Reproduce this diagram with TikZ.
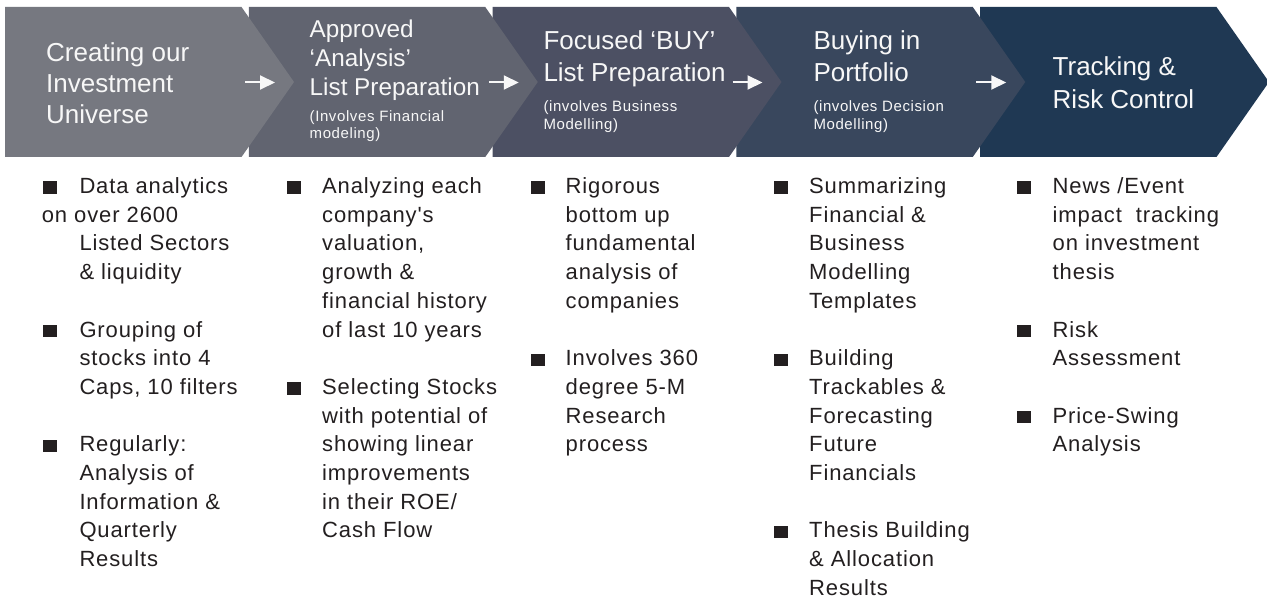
\documentclass[tikz,border=0pt]{standalone}
\usepackage{fontspec}
\setmainfont{Liberation Sans}
\newfontfamily\bodyfont[LetterSpace=4]{Liberation Sans}
\newfontfamily\subfont[LetterSpace=4]{Liberation Sans}
\usetikzlibrary{arrows.meta}
\definecolor{cA}{HTML}{767880}
\definecolor{cB}{HTML}{616470}
\definecolor{cC}{HTML}{4C5063}
\definecolor{cD}{HTML}{39475D}
\definecolor{cE}{HTML}{1F3853}
\definecolor{txt}{HTML}{231F20}
\definecolor{wtxt}{HTML}{F7F7F7}
\tikzset{
  chev/.style={draw=none},
  ttl/.style={anchor=base west, inner sep=0pt, text=wtxt, font=\fontsize{26}{30}\selectfont},
  ttlsmall/.style={anchor=base west, inner sep=0pt, text=wtxt, font=\fontsize{24.3}{29}\selectfont},
  subt/.style={anchor=base west, inner sep=0pt, text=wtxt, font=\subfont\fontsize{15}{17}\selectfont},
  btxt/.style={anchor=base west, inner sep=0pt, text=txt, font=\bodyfont\fontsize{22}{28.7}\selectfont},
  bsq/.style={anchor=south west, fill=txt, draw=none, inner sep=0pt, minimum width=13.8pt, minimum height=12.5pt},
  flow/.style={draw=wtxt, line width=2pt, -{Triangle[length=15pt,width=14pt]}},
}
\begin{document}
\begin{tikzpicture}[x=1pt,y=-1pt]
\useasboundingbox (0,0) rectangle (1267,599);
\fill[white] (0,0) rectangle (1267,599);

% chevrons (drawn right to left so each tip overlaps the next box)
\foreach \i/\c in {5/cE,4/cD,3/cC,2/cB,1/cA}{
  \pgfmathsetmacro\xo{5+243.75*(\i-1)}
  \fill[chev, fill=\c] (\xo,7) -- ++(236.5,0) -- ++(52.5,75) -- ++(-52.5,75) -- ++(-236.5,0) -- cycle;
}

% small arrows between the steps
\foreach \i in {1,2,3,4}{
  \pgfmathsetmacro\xa{245+243.75*(\i-1)}
  \coordinate (a\i s) at (\xa,82.5);
  \coordinate (a\i e) at (\xa+30,82.5);
  \draw[flow] (a\i s) -- (a\i e);
}

% titles
\node[ttl] (t1a) at (46,61.7) {Creating our};
\node[ttl] (t1b) at (46,92.7) {Investment};
\node[ttl] (t1c) at (46,123.3) {Universe};

\node[ttlsmall] (t2a) at (309.5,37.7) {Approved};
\node[ttlsmall] (t2b) at (309.5,66.5) {‘Analysis’};
\node[ttlsmall] (t2c) at (309.5,95.5) {List Preparation};
\node[subt] (t2d) at (309.5,121.7) {(Involves Financial};
\node[subt] (t2e) at (309.5,138.5) {modeling)};

\node[ttl] (t3a) at (543.3,50) {Focused ‘BUY’};
\node[ttl] (t3b) at (543.3,81.7) {List Preparation};
\node[subt] (t3c) at (543.3,111.7) {(involves Business};
\node[subt] (t3d) at (543.3,130) {Modelling)};

\node[ttl] (t4a) at (813.3,49.5) {Buying in};
\node[ttl] (t4b) at (813.3,81.7) {Portfolio};
\node[subt] (t4c) at (813.3,111.7) {(involves Decision};
\node[subt] (t4d) at (813.3,130) {Modelling)};

\node[ttl] (t5a) at (1052.5,76) {Tracking \&};
\node[ttl] (t5b) at (1052.5,108.3) {Risk Control};

% bullet columns
\def\yb{193.5}
\def\ls{28.7}
% column 1
\foreach \k in {0,5,9}{\node[bsq] (b1-\k) at (42.7,{\yb+\ls*\k+0.5}) {};}
\node[btxt] (c1-0) at (79.3,\yb) {Data analytics};
\node[btxt] (c1-1) at (41.7,\yb+\ls) {on over 2600};
\foreach \k/\t in {2/Listed Sectors,3/\& liquidity,5/Grouping of,6/stocks into 4,7/{Caps, 10 filters},9/Regularly:,10/Analysis of,11/Information \&,12/Quarterly,13/Results}
  {\node[btxt] (c1-\k) at (79.3,{\yb+\ls*\k}) {\t};}
% column 2
\foreach \k in {0,7}{\node[bsq] (b2-\k) at (287,{\yb+\ls*\k+0.5}) {};}
\foreach \k/\t in {0/Analyzing each,1/company's,2/{valuation,},3/growth \&,4/financial history,5/of last 10 years,7/Selecting Stocks,8/with potential of,9/showing linear,10/improvements,11/{in their ROE/},12/Cash Flow}
  {\node[btxt] (c2-\k) at (322,{\yb+\ls*\k}) {\t};}
% column 3
\foreach \k in {0,6}{\node[bsq] (b3-\k) at (530.5,{\yb+\ls*\k+0.5}) {};}
\foreach \k/\t in {0/Rigorous,1/bottom up,2/fundamental,3/analysis of,4/companies,6/Involves 360,7/degree 5-M,8/Research,9/process}
  {\node[btxt] (c3-\k) at (565.5,{\yb+\ls*\k}) {\t};}
% column 4
\foreach \k in {0,6,12}{\node[bsq] (b4-\k) at (773.5,{\yb+\ls*\k+0.5}) {};}
\foreach \k/\t in {0/Summarizing,1/Financial \&,2/Business,3/Modelling,4/Templates,6/Building,7/Trackables \&,8/Forecasting,9/Future,10/Financials,12/Thesis Building,13/\& Allocation,14/Results}
  {\node[btxt] (c4-\k) at (809,{\yb+\ls*\k}) {\t};}
% column 5
\foreach \k in {0,5,8}{\node[bsq] (b5-\k) at (1017,{\yb+\ls*\k+0.5}) {};}
\foreach \k/\t in {0/{News /Event},1/impact\ \ tracking,2/on investment,3/thesis,5/Risk,6/Assessment,8/Price-Swing,9/Analysis}
  {\node[btxt] (c5-\k) at (1052.5,{\yb+\ls*\k}) {\t};}
\end{tikzpicture}
\end{document}
